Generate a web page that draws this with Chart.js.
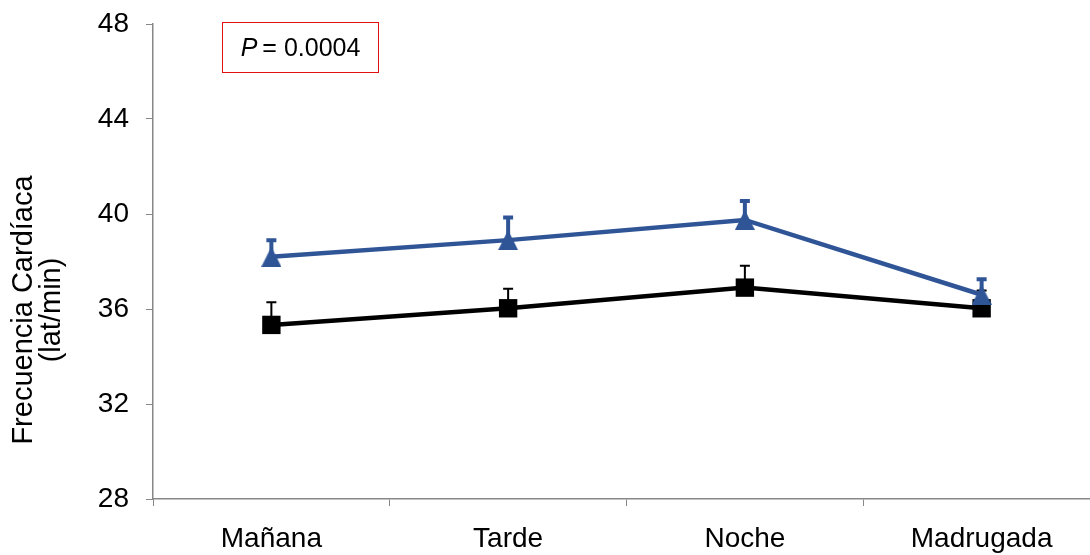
<!DOCTYPE html>
<html>
<head>
<meta charset="utf-8">
<script src="https://cdn.jsdelivr.net/npm/chart.js@4/dist/chart.umd.min.js"></script>
<style>
  html, body { margin: 0; padding: 0; background: #fff; overflow: hidden; }
  #wrap { position: relative; width: 1100px; height: 555px; }
  #pbox {
    position: absolute; left: 222px; top: 22px; width: 155px; height: 49px;
    border: 1.5px solid #e01010; font-family: 'Liberation Sans', Arial, sans-serif;
    font-size: 25px; line-height: 49px; text-align: center; color: #000;
  }
</style>
</head>
<body>
<div id="wrap">
  <canvas id="chart" width="1100" height="555"></canvas>
  <div id="pbox"><i>P</i>&#8201;= 0.0004</div>
</div>
<script>
// Datos
const categorias = ['Mañana', 'Tarde', 'Noche', 'Madrugada'];
const serieAzul = [38.2, 38.9, 39.75, 36.6];
const errorAzul = [0.7, 0.95, 0.8, 0.65];
const serieNegra = [35.33, 36.03, 36.9, 36.03];
const errorNegra = [0.95, 0.82, 0.92, 0.75];
const ticksY = [28, 32, 36, 40, 44, 48];

const FONT = "'Liberation Sans', Arial, sans-serif";
const AZUL = '#2F5597';

// Marcador triangular (centrado en su caja, como en Excel)
function makeTriangle(w, h, color) {
    const c = document.createElement('canvas');
    c.width = w;
    c.height = h;
    const g = c.getContext('2d');
    g.fillStyle = color;
    g.beginPath();
    g.moveTo(w / 2, 0);
    g.lineTo(w, h);
    g.lineTo(0, h);
    g.closePath();
    g.fill();
    return c;
}

// Barras de error (solo hacia arriba)
const errorBars = {
    id: 'errorBars',
    beforeDatasetsDraw(chart) {
        const ctx = chart.ctx;
        chart.data.datasets.forEach((ds, i) => {
            const meta = chart.getDatasetMeta(i);
            const yScale = chart.scales.y;
            ctx.save();
            ctx.strokeStyle = ds.borderColor;
            ctx.lineWidth = ds.errWidth;
            meta.data.forEach((pt, j) => {
                const yTop = yScale.getPixelForValue(ds.data[j] + ds.errores[j]);
                ctx.beginPath();
                ctx.moveTo(pt.x, pt.y);
                ctx.lineTo(pt.x, yTop);
                ctx.moveTo(pt.x - ds.capHalf, yTop);
                ctx.lineTo(pt.x + ds.capHalf, yTop);
                ctx.stroke();
            });
            ctx.restore();
        });
    }
};

// Título del eje Y
const yTitle = {
    id: 'yTitle',
    afterDraw(chart) {
        const ctx = chart.ctx;
        ctx.save();
        ctx.fillStyle = '#000';
        ctx.font = '29px ' + FONT;
        ctx.textAlign = 'center';
        ctx.textBaseline = 'alphabetic';
        ctx.translate(0, 310);
        ctx.rotate(-Math.PI / 2);
        ctx.fillText('Frecuencia Cardíaca', 0, 32);
        ctx.fillText('(lat/min)', 0, 60);
        ctx.restore();
    }
};

new Chart(document.getElementById('chart'), {
    type: 'line',
    data: {
        labels: categorias,
        datasets: [
            {
                data: serieNegra,
                errores: errorNegra,
                errWidth: 2,
                capHalf: 5,
                borderColor: '#000',
                backgroundColor: '#000',
                borderWidth: 4.5,
                pointStyle: 'rect',
                pointRadius: 13,
                pointBorderWidth: 0,
                order: 2
            },
            {
                data: serieAzul,
                errores: errorAzul,
                errWidth: 4,
                capHalf: 5,
                borderColor: AZUL,
                backgroundColor: AZUL,
                borderWidth: 4.5,
                pointStyle: makeTriangle(20, 20, AZUL),
                pointRadius: 10,
                pointBorderWidth: 0,
                order: 1
            }
        ]
    },
    options: {
        responsive: false,
        animation: false,
        layout: { autoPadding: false, padding: { top: 24, right: 0, left: 0, bottom: 0 } },
        plugins: { legend: { display: false }, tooltip: { enabled: false } },
        scales: {
            x: {
                offset: true,
                grid: { offset: true, drawOnChartArea: false, tickLength: 7, color: '#888', tickColor: '#888' },
                border: { color: '#888', width: 1.5 },
                ticks: { color: '#000', font: { family: FONT, size: 28 }, padding: 16, maxRotation: 0 },
                afterFit(scale) {
                    scale.height = 56;
                    scale.paddingLeft = 0;
                    scale.paddingRight = 0;
                }
            },
            y: {
                min: 28, max: 48,
                afterBuildTicks(scale) { scale.ticks = ticksY.map(v => ({ value: v })); },
                grid: { drawOnChartArea: false, tickLength: 7, color: '#888', tickColor: '#888' },
                border: { color: '#888', width: 1.5 },
                ticks: { color: '#000', font: { family: FONT, size: 28 }, padding: 17 },
                afterFit(scale) {
                    scale.width = 153;
                    scale.paddingTop = 0;
                    scale.paddingBottom = 0;
                }
            }
        }
    },
    plugins: [errorBars, yTitle]
});
</script>
</body>
</html>
